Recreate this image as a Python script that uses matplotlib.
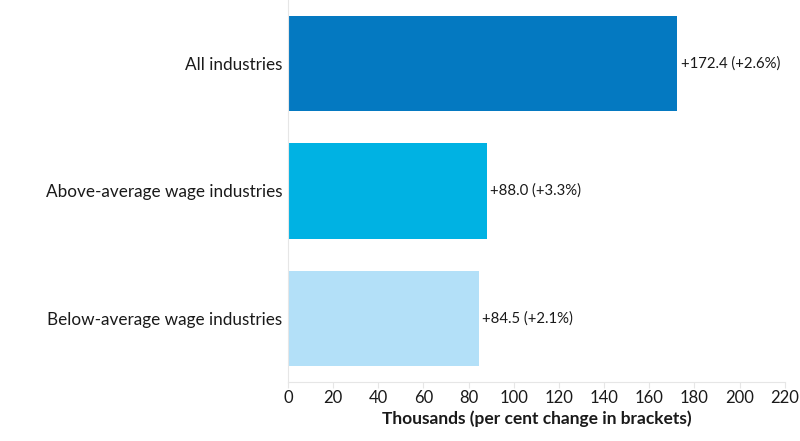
import matplotlib.pyplot as plt

plt.rcParams['font.family'] = ['Lato', 'DejaVu Sans']

categories = ['All industries', 'Above-average wage industries', 'Below-average wage industries']
values = [172.4, 88.0, 84.5]
pct_changes = ['+2.6%', '+3.3%', '+2.1%']
colors = ['#0479c1', '#00b2e3', '#b3e0f8']
x_ticks = list(range(0, 221, 20))

fig = plt.figure(figsize=(8, 4.41), dpi=100)
ax = fig.add_axes([0.36, 0.134, 0.621, 0.866])

y_pos = list(range(len(categories)))
ax.barh(y_pos, values, height=0.75, color=colors, zorder=2)

for y, v, p in zip(y_pos, values, pct_changes):
    ax.text(v + 1.5, y, f'+{v:.1f} ({p})', va='center', ha='left',
            fontsize=10.7, color='#1a1a1a')

ax.set_yticks(y_pos)
ax.set_yticklabels(categories, fontsize=12.3, color='#1a1a1a')
ax.set_ylim(2.5, -0.5)
ax.set_xlim(0, 220)
ax.set_xticks(x_ticks)
ax.set_xticklabels([str(t) for t in x_ticks], fontsize=12, color='#1a1a1a')
ax.tick_params(axis='y', length=0, pad=4)
ax.tick_params(axis='x', length=4, color='#e6e6e6', pad=2)
ax.set_xlabel('Thousands (per cent change in brackets)', fontsize=12.5,
              fontweight='bold', color='#1a1a1a', labelpad=3)

for side in ['top', 'right']:
    ax.spines[side].set_visible(False)
ax.spines['left'].set_color('#e6e6e6')
ax.spines['bottom'].set_color('#e6e6e6')

fig.savefig('out.png', dpi=100)
